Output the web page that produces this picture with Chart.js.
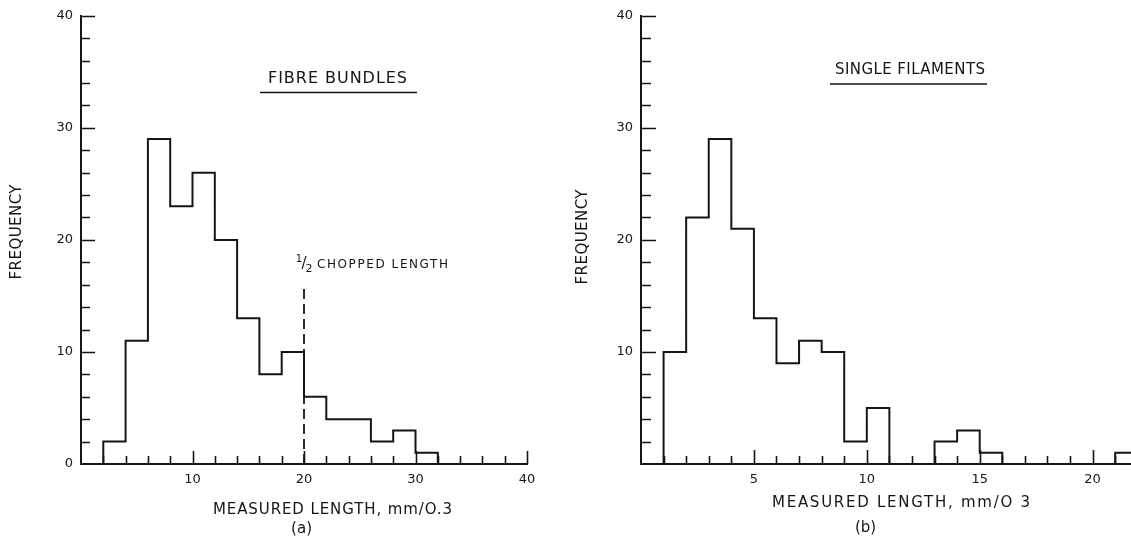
<!DOCTYPE html>
<html>
<head>
<meta charset="utf-8">
<script src="https://cdn.jsdelivr.net/npm/chart.js@4/dist/chart.umd.min.js"></script>
<style>
  html, body { margin: 0; padding: 0; background: #fff; }
  #wrap { position: relative; width: 1131px; height: 542px; overflow: hidden; }
  canvas { position: absolute; top: 0; }
  #chart-a { left: 0; }
  #chart-b { left: 560px; }
</style>
</head>
<body>
<div id="wrap">
  <canvas id="chart-a" width="560" height="542"></canvas>
  <canvas id="chart-b" width="571" height="542"></canvas>
</div>
<script>
// (a) fibre bundles, bins of 2 units
const bundleBins = [2, 4, 6, 8, 10, 12, 14, 16, 18, 20, 22, 24, 26, 28, 30];
const bundleCounts = [2, 11, 29, 23, 26, 20, 13, 8, 10, 6, 4, 4, 2, 3, 1];
const bundleBinWidth = 2;
const bundleXLabels = [10, 20, 30, 40];
const bundleYLabels = [0, 10, 20, 30, 40];

// (b) single filaments, bins of 1 unit
const filamentBins = [1, 2, 3, 4, 5, 6, 7, 8, 9, 10, 11, 12, 13, 14, 15, 16, 17, 18, 19, 20, 21];
const filamentCounts = [10, 22, 29, 21, 13, 9, 11, 10, 2, 5, 0, 0, 2, 3, 1, 0, 0, 0, 0, 0, 1];
const filamentBinWidth = 1;
const filamentXLabels = [5, 10, 15, 20];
const filamentYLabels = [10, 20, 30, 40];

// half chopped length marker
const halfChopX = [20, 20];
const halfChopY = [0, 16];

const ink = "#151515";
const fontFamily = "'DejaVu Sans', sans-serif";

function histPoints(bins, counts, width) {
  const pts = [{ x: bins[0], y: 0 }];
  bins.forEach((b, i) => pts.push({ x: b, y: counts[i] }));
  pts.push({ x: bins[bins.length - 1] + width, y: 0 });
  return pts;
}

// text stretched to a given width, like the stencil lettering
function spaced(ctx, text, x, y, width, size) {
  ctx.font = `${size}px ${fontFamily}`;
  ctx.letterSpacing = "0px";
  const w = ctx.measureText(text).width;
  const ls = text.length > 1 ? (width - w) / (text.length - 1) : 0;
  ctx.letterSpacing = `${ls}px`;
  ctx.textAlign = "left";
  ctx.textBaseline = "middle";
  ctx.fillText(text, x, y);
  ctx.letterSpacing = "0px";
}

const tickMarks = {
  id: "tickMarks",
  afterDraw(chart, args, o) {
    const { ctx, chartArea, scales } = chart;
    ctx.save();
    ctx.strokeStyle = ink;
    ctx.lineWidth = 1.6;
    ctx.beginPath();
    for (let v = o.yStep; v <= scales.y.max + 1e-6; v += o.yStep) {
      const py = Math.round(scales.y.getPixelForValue(v)) + 0.5;
      const len = v % o.yMajor === 0 ? o.yLong : o.yShort;
      ctx.moveTo(chartArea.left, py);
      ctx.lineTo(chartArea.left + len, py);
    }
    for (let v = o.xStart; v <= scales.x.max + 1e-6; v += o.xStep) {
      const px = Math.round(scales.x.getPixelForValue(v)) + 0.5;
      const len = v % o.xMajor === 0 ? o.xLong : o.xShort;
      ctx.moveTo(px, chartArea.bottom);
      ctx.lineTo(px, chartArea.bottom - len);
    }
    ctx.stroke();
    ctx.restore();
  },
};

const labels = {
  id: "labels",
  afterDraw(chart, args, o) {
    const ctx = chart.ctx;
    ctx.save();
    ctx.fillStyle = ink;
    ctx.strokeStyle = ink;
    (o.texts || []).forEach((t) => {
      if (t.rotate) {
        ctx.save();
        ctx.translate(t.x, t.y);
        ctx.rotate(-Math.PI / 2);
        spaced(ctx, t.text, -t.width / 2, 0, t.width, t.size);
        ctx.restore();
      } else {
        spaced(ctx, t.text, t.x, t.y, t.width, t.size);
      }
    });
    (o.underlines || []).forEach((u) => {
      ctx.lineWidth = 1.6;
      ctx.beginPath();
      ctx.moveTo(u.x1, u.y);
      ctx.lineTo(u.x2, u.y);
      ctx.stroke();
    });
    (o.small || []).forEach((s) => {
      ctx.font = `${s.size}px ${fontFamily}`;
      ctx.textAlign = "center";
      ctx.textBaseline = "middle";
      ctx.fillText(s.text, s.x, s.y);
    });
    ctx.restore();
  },
};

function makeChart(id, cfg) {
  const ctx = document.getElementById(id).getContext("2d");
  const datasets = [
    {
      data: histPoints(cfg.bins, cfg.counts, cfg.binWidth),
      stepped: "before",
      borderColor: ink,
      borderWidth: 2,
      pointRadius: 0,
      fill: false,
    },
  ];
  if (cfg.dashed) {
    datasets.push({
      data: halfChopX.map((x, i) => ({ x, y: halfChopY[i] })),
      borderColor: ink,
      borderWidth: 1.8,
      borderDash: [10, 5],
      pointRadius: 0,
      fill: false,
    });
  }
  return new Chart(ctx, {
    type: "line",
    data: { datasets },
    plugins: [tickMarks, labels],
    options: {
      responsive: false,
      animation: false,
      layout: { padding: cfg.padding },
      scales: {
        x: {
          type: "linear",
          min: 0,
          max: cfg.xMax,
          afterBuildTicks: (s) => (s.ticks = cfg.xLabels.map((v) => ({ value: v }))),
          afterFit: (s) => (s.height = 78),
          grid: { display: false, drawTicks: false, tickLength: 0 },
          border: { display: true, color: ink, width: 2 },
          ticks: {
            color: ink,
            font: { family: fontFamily, size: 13 },
            padding: 8,
            maxRotation: 0,
            autoSkip: false,
          },
        },
        y: {
          min: 0,
          max: 40,
          afterBuildTicks: (s) => (s.ticks = cfg.yLabels.map((v) => ({ value: v }))),
          afterFit: (s) => (s.width = cfg.yWidth),
          grid: { display: false, drawTicks: false, tickLength: 0 },
          border: { display: true, color: ink, width: 2 },
          ticks: {
            color: ink,
            font: { family: fontFamily, size: 13 },
            padding: 8,
            autoSkip: false,
          },
        },
      },
      plugins: {
        legend: { display: false },
        tooltip: { enabled: false },
        tickMarks: cfg.ticks,
        labels: cfg.labels,
      },
    },
  });
}

makeChart("chart-a", {
  bins: bundleBins,
  counts: bundleCounts,
  binWidth: bundleBinWidth,
  xLabels: bundleXLabels,
  yLabels: bundleYLabels,
  xMax: 40,
  yWidth: 81,
  dashed: true,
  padding: { top: 11, right: 33, left: 0, bottom: 0 },
  ticks: { yStep: 2, yMajor: 10, yShort: 9, yLong: 14, xStart: 2, xStep: 2, xMajor: 10, xShort: 8, xLong: 13 },
  labels: {
    texts: [
      { text: "FREQUENCY", x: 17, y: 232, width: 95, size: 15, rotate: true },
      { text: "FIBRE BUNDLES", x: 268, y: 79, width: 139, size: 16 },
      { text: "MEASURED LENGTH, mm/O.3", x: 213, y: 510, width: 239, size: 15 },
      { text: "(a)", x: 291, y: 529, width: 21, size: 15 },
      { text: "CHOPPED LENGTH", x: 317, y: 265, width: 131, size: 12 },
    ],
    underlines: [{ x1: 260, x2: 417, y: 92.5 }],
    small: [
      { text: "1", x: 299, y: 259, size: 10 },
      { text: "/", x: 304, y: 264, size: 15 },
      { text: "2", x: 309, y: 269, size: 11 },
    ],
  },
});

makeChart("chart-b", {
  bins: filamentBins,
  counts: filamentCounts,
  binWidth: filamentBinWidth,
  xLabels: filamentXLabels,
  yLabels: filamentYLabels,
  xMax: 21.7,
  yWidth: 81,
  dashed: false,
  padding: { top: 11, right: 0, left: 0, bottom: 0 },
  ticks: { yStep: 2, yMajor: 10, yShort: 10, yLong: 15, xStart: 1, xStep: 1, xMajor: 5, xShort: 8, xLong: 14 },
  labels: {
    texts: [
      { text: "FREQUENCY", x: 23, y: 237, width: 95, size: 15, rotate: true },
      { text: "SINGLE FILAMENTS", x: 275, y: 70, width: 150, size: 15 },
      { text: "MEASURED LENGTH, mm/O 3", x: 212, y: 503, width: 258, size: 15 },
      { text: "(b)", x: 295, y: 528, width: 21, size: 15 },
    ],
    underlines: [{ x1: 270, x2: 427, y: 84 }],
  },
});
</script>
</body>
</html>
